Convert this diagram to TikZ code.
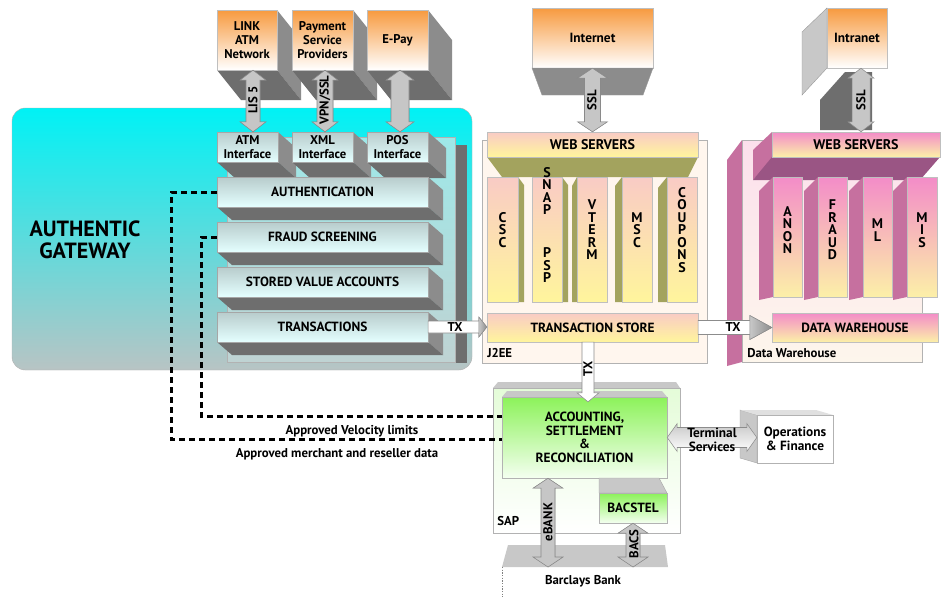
\documentclass[tikz,border=0pt]{standalone}
\usepackage{fontspec}
\setmainfont{PT Sans}
\usetikzlibrary{calc}

\definecolor{orT}{HTML}{F79A3F}
\definecolor{cyanT}{HTML}{00F2F5}
\definecolor{cyanB}{HTML}{B8C4C4}
\definecolor{inT}{HTML}{9EE8E8}
\definecolor{inB}{HTML}{BFD3D3}
\definecolor{layT}{HTML}{B8CCCC}
\definecolor{layB}{HTML}{E4FFFF}
\definecolor{greyM}{HTML}{8C8C8C}
\definecolor{greyD}{HTML}{6E6E6E}
\definecolor{greyL}{HTML}{C8C8C8}
\definecolor{arrL}{HTML}{C6C6C6}
\definecolor{arrE}{HTML}{8A8A8A}
\definecolor{jT}{HTML}{F9CBC5}
\definecolor{jB}{HTML}{FFF59C}
\definecolor{olv}{HTML}{A3A35E}
\definecolor{jpan}{HTML}{FFF6EE}
\definecolor{dT}{HTML}{F38CC8}
\definecolor{dB}{HTML}{FCF0A8}
\definecolor{dpanT}{HTML}{FCE0EC}
\definecolor{dpanB}{HTML}{FDF6EC}
\definecolor{dwall}{HTML}{C6709F}
\definecolor{dbot}{HTML}{9A5584}
\definecolor{gT}{HTML}{8CF25A}
\definecolor{gB}{HTML}{F4FFF0}
\definecolor{sapT}{HTML}{E4FCD8}

% box node from corners (px): style, name, x1, y1, x2, y2, text
\newcommand\bnode[7]{\node[inner sep=0pt, #1, minimum width={(#5-(#3))*0.75pt}, minimum height={(#6-(#4))*0.75pt}] (#2) at ({(#3+#5)/2},{(#4+#6)/2}) {#7};}
% vertical double block arrow: style, top, bottom, shaft half width, head half width (px)
\newcommand\myVArrow[5]{%
  \path[#1] let \p1=#2, \p2=#3 in
   (\x1,\y1) -- (\x1+#5*0.75pt,\y1-7.5pt) -- (\x1+#4*0.75pt,\y1-7.5pt) --
   (\x1+#4*0.75pt,\y2+7.5pt) -- (\x1+#5*0.75pt,\y2+7.5pt) -- (\x1,\y2) --
   (\x1-#5*0.75pt,\y2+7.5pt) -- (\x1-#4*0.75pt,\y2+7.5pt) --
   (\x1-#4*0.75pt,\y1-7.5pt) -- (\x1-#5*0.75pt,\y1-7.5pt) -- cycle;}
% horizontal double block arrow
\newcommand\myHDArrow[5]{%
  \path[#1] let \p1=#2, \p2=#3 in
   (\x1,\y1) -- (\x1+7.5pt,\y1+#5*0.75pt) -- (\x1+7.5pt,\y1+#4*0.75pt) --
   (\x2-7.5pt,\y1+#4*0.75pt) -- (\x2-7.5pt,\y1+#5*0.75pt) -- (\x2,\y1) --
   (\x2-7.5pt,\y1-#5*0.75pt) -- (\x2-7.5pt,\y1-#4*0.75pt) --
   (\x1+7.5pt,\y1-#4*0.75pt) -- (\x1+7.5pt,\y1-#5*0.75pt) -- cycle;}
% single right arrow: style, from, to, shaft hw, head hw, head length
\newcommand\myHArrow[6]{%
  \path[#1] let \p1=#2, \p2=#3 in
   (\x1,\y1+#4*0.75pt) -- (\x2-#6*0.75pt,\y1+#4*0.75pt) -- (\x2-#6*0.75pt,\y1+#5*0.75pt) --
   (\x2,\y1) -- (\x2-#6*0.75pt,\y1-#5*0.75pt) -- (\x2-#6*0.75pt,\y1-#4*0.75pt) --
   (\x1,\y1-#4*0.75pt) -- cycle;}
% head of a right arrow only: style, from, to, head hw, head length
\newcommand\myHHead[5]{%
  \path[#1] let \p1=#2, \p2=#3 in
   (\x2-#5*0.75pt,\y1+#4*0.75pt) -- (\x2,\y1) -- (\x2-#5*0.75pt,\y1-#4*0.75pt) -- cycle;}
% single down arrow
\newcommand\myDArrow[6]{%
  \path[#1] let \p1=#2, \p2=#3 in
   (\x1-#4*0.75pt,\y1) -- (\x1-#4*0.75pt,\y2+#6*0.75pt) -- (\x1-#5*0.75pt,\y2+#6*0.75pt) --
   (\x1,\y2) -- (\x1+#5*0.75pt,\y2+#6*0.75pt) -- (\x1+#4*0.75pt,\y2+#6*0.75pt) --
   (\x1+#4*0.75pt,\y1) -- cycle;}
% extrusion (right face + bottom face)
\newcommand\myExtr[6]{%
  \fill[greyM] (#3,#2) -- (#3+#5,#2+#6) -- (#3+#5,#4+#6) -- (#3,#4) -- cycle;
  \fill[greyD] (#1,#4) -- (#3,#4) -- (#3+#5,#4+#6) -- (#1+#5,#4+#6) -- cycle;}

\tikzset{
  lbl/.style={font=\bfseries\fontsize{9.5}{10.5}\selectfont, align=center},
  obox/.style={top color=orT, bottom color=white, draw=black!25, line width=0.3pt, lbl},
  gbox/.style={top color=layT, bottom color=layB, draw=black!35, line width=0.3pt, lbl},
  lay/.style={font=\bfseries\fontsize{10}{10.2}\selectfont},
  web/.style={font=\bfseries\fontsize{10.5}{11}\selectfont},
  jbox/.style={top color=jT, bottom color=jB, draw=black!25, line width=0.3pt, lbl, lay},
  dbox/.style={top color=dT, bottom color=dB, draw=black!25, line width=0.3pt, lbl, lay},
  panel/.style={draw=black!30, line width=0.3pt},
  coltxt/.style={font=\bfseries\fontsize{10.5}{9.4}\selectfont, align=center, inner sep=0pt},
  arr/.style={fill=arrL, draw=arrE, line width=0.4pt},
  arrsh/.style={fill=greyD},
  warr/.style={fill=white, draw=black!45, line width=0.4pt},
  ghead/.style={left color=greyL, right color=black!45, draw=black!45, line width=0.4pt},
  dashline/.style={line width=2.25pt, dash pattern=on 4.5pt off 3pt},
  small/.style={font=\bfseries\fontsize{9.6}{10}\selectfont, inner sep=0pt, align=center},
}

\begin{document}
\begin{tikzpicture}[x=0.75pt,y=-0.75pt]
\path[use as bounding box] (0,0) rectangle (944,597);
\fill[white] (0,0) rectangle (944,597);

% ================= AUTHENTIC GATEWAY =================
\bnode{panel, rounded corners=10pt, top color=cyanT, bottom color=cyanB}{gw}{12}{108}{472}{370}{}
\node[lbl, font=\bfseries\fontsize{16.5}{16.5}\selectfont] (gwT) at (85,240) {AUTHENTIC\\GATEWAY};
\fill[greyD] (455,145) rectangle (467,363);
\bnode{panel, top color=inT, bottom color=inB}{inner}{227}{137}{455}{362}{}

% extrusions
\myExtr{217}{10}{277}{70}{24}{30}
\myExtr{292}{10}{353}{70}{24}{30}
\myExtr{367}{10}{428}{70}{24}{30}
\myExtr{217}{132}{278}{162}{18}{16}
\myExtr{292}{132}{353}{162}{18}{16}
\myExtr{367}{132}{428}{162}{18}{16}
\myExtr{217}{177}{428}{207}{15}{13}
\myExtr{217}{222}{428}{252}{15}{13}
\myExtr{217}{267}{428}{297}{15}{13}
\myExtr{217}{312}{428}{342}{15}{13}

% top boxes
\bnode{obox}{link}{217}{10}{277}{70}{LINK\\ATM\\Network}
\bnode{obox}{psp}{292}{10}{353}{70}{Payment\\Service\\Providers}
\bnode{obox}{epay}{367}{10}{428}{70}{E-Pay}

% interfaces
\bnode{gbox}{atm}{217}{132}{278}{162}{ATM\\Interface}
\bnode{gbox}{xml}{292}{132}{353}{162}{XML\\Interface}
\bnode{gbox}{pos}{367}{132}{428}{162}{POS\\Interface}

% layers
\bnode{gbox, lay}{auth}{217}{177}{428}{207}{AUTHENTICATION}
\bnode{gbox, lay}{fraud}{217}{222}{428}{252}{FRAUD SCREENING}
\bnode{gbox, lay}{sva}{217}{267}{428}{297}{STORED VALUE ACCOUNTS}
\bnode{gbox, lay}{trans}{217}{312}{428}{342}{TRANSACTIONS}

% top arrows
\myVArrow{arrsh, shift={(6,0)}}{($(link.south)+(6,0)$)}{($(atm.north)+(6,0)$)}{7}{13}
\myVArrow{arr}{($(link.south)+(6,0)$)}{($(atm.north)+(6,0)$)}{7}{13}
\myVArrow{arrsh, shift={(6,0)}}{($(psp.south)+(2.5,0)$)}{($(xml.north)+(2.5,0)$)}{8}{13}
\myVArrow{arr}{($(psp.south)+(2.5,0)$)}{($(xml.north)+(2.5,0)$)}{8}{13}
\myVArrow{arrsh, shift={(6,0)}}{($(epay.south)+(2.5,0)$)}{($(pos.north)+(2.5,0)$)}{9}{14}
\myVArrow{arr}{($(epay.south)+(2.5,0)$)}{($(pos.north)+(2.5,0)$)}{9}{14}
\node[small, rotate=90] (lisT) at (253,100) {LIS 5};
\node[small, rotate=90] (vpnT) at (325,100) {VPN/SSL};

% ================= J2EE =================
\bnode{panel, fill=jpan}{j2ee}{482}{140}{707}{363}{}
\bnode{obox, lay}{inet}{532}{8}{653}{68}{Internet}
\fill[greyM, draw=black!40, line width=0.3pt] (532,68) -- (653,68) -- (643,95) -- (542,95) -- cycle;
\fill[olv] (487,157) -- (698,157) -- (688,177) -- (502,177) -- cycle;
\bnode{jbox, web}{webJ}{487}{132}{698}{157}{WEB SERVERS}
\fill[olv] (518,177) -- (524,185) -- (524,302) -- (518,302) -- cycle;
\fill[olv] (562,177) -- (568,185) -- (568,302) -- (562,302) -- cycle;
\fill[olv] (577,177) -- (572,186) -- (572,302) -- (577,302) -- cycle;
\fill[olv] (622,177) -- (615,186) -- (615,302) -- (622,302) -- cycle;
\fill[olv] (667,177) -- (658,188) -- (658,302) -- (667,302) -- cycle;
\bnode{jbox}{csc}{487}{177}{518}{302}{}
\bnode{jbox}{snap}{532}{177}{562}{302}{}
\bnode{jbox}{vterm}{577}{177}{607}{302}{}
\bnode{jbox}{msc}{622}{177}{652}{302}{}
\bnode{jbox}{coup}{667}{177}{697}{302}{}
\node[coltxt] (cscT) at (502.5,230) {C\\S\\C};
\node[coltxt] (snapT) at (547,225) {S\\N\\A\\P\\[23pt]P\\S\\P};
\node[coltxt] (vtermT) at (592,230) {V\\T\\E\\R\\M};
\node[coltxt] (mscT) at (637,230) {M\\S\\C};
\node[coltxt] (coupT) at (682,230) {C\\O\\U\\P\\O\\N\\S};
\bnode{jbox}{tstore}{487}{313}{698}{342}{TRANSACTION STORE}
\node[small, anchor=west] (j2eeT) at (487,353) {J2EE};
\myVArrow{arrsh, shift={(-7,0)}}{(inet.south)}{(webJ.north)}{8}{15}
\myVArrow{arr}{(inet.south)}{(webJ.north)}{8}{15}
\node[small, rotate=90] (sslT1) at (592,100) {SSL};

% ================= DATA WAREHOUSE =================
\fill[dwall] (727,160) -- (742,140) -- (742,362) -- (727,366) -- cycle;
\bnode{panel, top color=dpanT, bottom color=dpanB}{dwp}{742}{140}{922}{362}{}
\fill[greyL, draw=black!40, line width=0.3pt] (827,8) -- (802,32) -- (802,95) -- (827,68) -- cycle;
\fill[greyD] (820,100) -- (845,72) -- (872,72) -- (872,130) -- (820,130) -- cycle;
\bnode{obox, lay}{intra}{827}{8}{887}{68}{Intranet}
\fill[dwall] (772,132) -- (753,150) -- (753,180) -- (772,160) -- cycle;
\fill[dbot] (772,157) -- (940,157) -- (920,180) -- (753,180) -- cycle;
\bnode{dbox, web}{webD}{772}{132}{940}{157}{WEB SERVERS}
\foreach \cx in {773,818,863,907}
  \fill[dwall] (\cx,177) -- (\cx-14,191) -- (\cx-14,300) -- (\cx,297) -- cycle;
\bnode{dbox}{anon}{773}{177}{802}{297}{}
\bnode{dbox}{fraudc}{818}{177}{847}{297}{}
\bnode{dbox}{ml}{863}{177}{892}{297}{}
\bnode{dbox}{mis}{907}{177}{937}{297}{}
\node[coltxt] (anonT) at (787.5,230) {A\\N\\O\\N};
\node[coltxt] (fraudT) at (832.5,230) {F\\R\\A\\U\\D};
\node[coltxt] (mlT) at (877.5,230) {M\\L};
\node[coltxt] (misT) at (922,230) {M\\I\\S};
\bnode{dbox}{dwbox}{772}{313}{938}{342}{DATA WAREHOUSE}
\node[small, anchor=west] (dwT) at (747,353) {Data Warehouse};
\myVArrow{arr}{($(intra.south)+(4,0)$)}{(webD.north)}{9}{13}
\node[small, rotate=90] (sslT2) at (861,100) {SSL};

% TX arrows
\myHArrow{warr}{(trans.east)}{(tstore.west)}{6}{10}{8}
\myHHead{ghead}{(trans.east)}{(tstore.west)}{10}{8}
\node[small] (tx1) at (455,327) {TX};
\myHArrow{warr}{(tstore.east)}{(dwbox.west)}{7}{12}{22}
\myHHead{ghead}{(tstore.east)}{(dwbox.west)}{12}{22}
\node[small] (tx2) at (733,327) {TX};

% ================= SAP =================
\fill[greyL] (493,388) -- (498,382) -- (676,382) -- (680,388) -- cycle;
\bnode{panel, top color=sapT, bottom color=white}{sap}{493}{388}{680}{533}{}
\fill[greyL] (502,397) -- (507,391) -- (662,391) -- (667,397) -- cycle;
\bnode{panel, lbl, top color=gT, bottom color=gB, font=\bfseries\fontsize{10}{10.1}\selectfont}{acct}{502}{397}{667}{478}{ACCOUNTING,\\SETTLEMENT\\\&\\RECONCILIATION}
\fill[greyL, draw=black!35, line width=0.3pt] (599,478) -- (659,478) -- (667,493) -- (599,493) -- cycle;
\bnode{panel, lbl, lay, top color=gT, bottom color=gB}{bacstel}{599}{493}{667}{523}{BACSTEL}
\node[small, anchor=west] (sapT) at (497,521) {SAP};
\myDArrow{warr}{($(tstore.south)+(-4.5,0)$)}{($(acct.north)+(0,5)$)}{6}{11}{9}
\node[small, rotate=90] (tx3) at (588,369) {TX};

% Barclays
\fill[greyL] (508,545) -- (665,545) -- (668,567) -- (502,567) -- cycle;
\coordinate (bb) at (583,567);
\draw[black!50, line width=0.3pt, dash pattern=on 1pt off 1pt] (502,567) -- (502,597);
\node[small] (bbT) at (583,581) {Barclays Bank};
\myVArrow{arrsh, shift={(-5,0)}}{($(acct.south)+(-36.5,0)$)}{(bb)}{7}{15}
\myVArrow{arr}{($(acct.south)+(-36.5,0)$)}{(bb)}{7}{15}
\myVArrow{arrsh, shift={(-5,0)}}{(bacstel.south)}{(bb)}{7}{15}
\myVArrow{arr}{(bacstel.south)}{(bb)}{7}{15}
\node[small, rotate=90] (ebT) at (548,522) {eBANK};
\node[small, rotate=90] (bacsT) at (634,544) {BACS};

% Operations & Finance
\fill[greyL, draw=black!35, line width=0.3pt] (740,410) -- (757,415) -- (757,463) -- (740,458) -- cycle;
\fill[black!12] (740,410) -- (816,410) -- (833,415) -- (757,415) -- cycle;
\bnode{panel, lbl, lay, fill=white, font=\bfseries\fontsize{10}{10.5}\selectfont}{ops}{757}{415}{833}{463}{Operations\\\& Finance}
\myHDArrow{top color=greyL, bottom color=white, draw=black!45, line width=0.4pt}{(acct.east)}{(ops.west)}{10}{14}
\node[small, font=\bfseries\fontsize{10}{10.5}\selectfont] (termT) at (712,440) {Terminal\\Services};

% dashed feedback lines
\draw[dashline] (auth.west) -- ++(-45,0) |- ($(acct.north west)+(0,43)$);
\draw[dashline] (fraud.west) -- ++(-15,0) |- ($(acct.north west)+(0,20)$);
\node[small] (velT) at (352,431) {Approved Velocity limits};
\node[small] (merT) at (337,454) {Approved merchant and reseller data};
\end{tikzpicture}
\end{document}
